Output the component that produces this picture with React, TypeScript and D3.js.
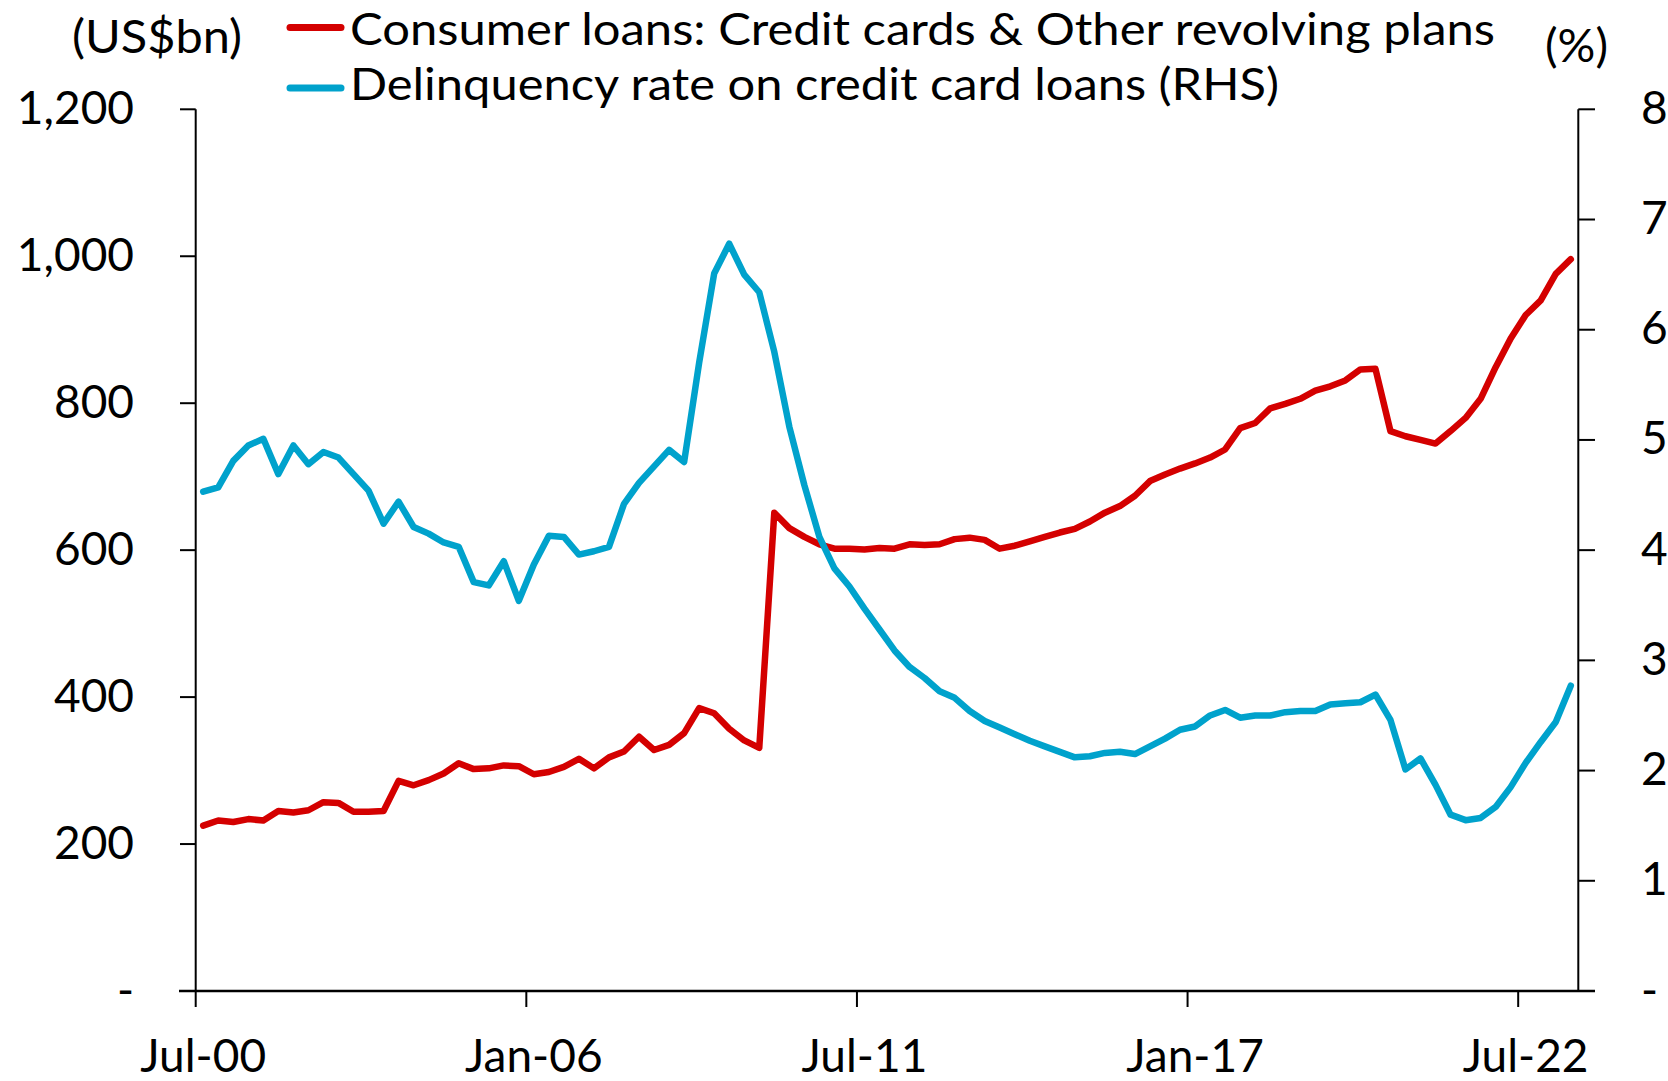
import React from "react";
import * as d3 from "d3";

// Quarterly categories Jul-00 .. Apr-23
const categoryDates: Date[] = d3.timeMonths(new Date(2000, 6, 1), new Date(2023, 6, 1), 3);
const fmt = d3.timeFormat("%b-%y");
const categories: string[] = categoryDates.map((d) => fmt(d));

const tickLabels: string[] = ["Jul-00", "Jan-06", "Jul-11", "Jan-17", "Jul-22"];

const leftTicks: number[] = [0, 200, 400, 600, 800, 1000, 1200];
const rightTicks: number[] = [0, 1, 2, 3, 4, 5, 6, 7, 8];

// Consumer loans: Credit cards & other revolving plans (US$bn)
const consumerLoans: number[] = [
  225, 232, 230, 234, 232, 245, 243, 246, 257, 256,
  244, 244, 245, 286, 280, 287, 296, 310, 302, 303,
  307, 306, 295, 298, 305, 316, 303, 318, 326, 346,
  328, 335, 351, 385, 378, 357, 341, 331, 651, 630,
  618, 608, 602, 602, 601, 603, 602, 608, 607, 608,
  615, 617, 614, 602, 606, 612, 618, 624, 629, 639,
  651, 660, 674, 694, 703, 711, 718, 726, 737, 766,
  773, 793, 799, 806, 817, 823, 831, 846, 847, 762,
  755, 750, 745, 762, 780, 806, 849, 888, 920, 940,
  976, 996,
];

// Delinquency rate on credit card loans (%), RHS
const delinquencyRate: number[] = [
  4.53, 4.57, 4.81, 4.95, 5.01, 4.69, 4.95, 4.78, 4.89, 4.84,
  4.69, 4.54, 4.24, 4.44, 4.21, 4.15, 4.07, 4.03, 3.71, 3.68,
  3.90, 3.54, 3.87, 4.13, 4.12, 3.96, 3.99, 4.03, 4.42, 4.61,
  4.76, 4.91, 4.80, 5.70, 6.51, 6.78, 6.50, 6.34, 5.80, 5.12,
  4.59, 4.12, 3.835, 3.67, 3.47, 3.28, 3.09, 2.94, 2.84, 2.72,
  2.66, 2.54, 2.45, 2.39, 2.33, 2.27, 2.22, 2.17, 2.12, 2.13,
  2.16, 2.17, 2.15, 2.22, 2.29, 2.37, 2.40, 2.50, 2.55, 2.48,
  2.50, 2.50, 2.53, 2.54, 2.54, 2.60, 2.61, 2.62, 2.69, 2.46,
  2.01, 2.11, 1.87, 1.60, 1.55, 1.57, 1.67, 1.85, 2.07, 2.26,
  2.44, 2.77,
];

const W = 1668;
const H = 1081;
const left = 195.7;
const right = 1578.3;
const top = 109.3;
const bottom = 991;

const RED = "#D40000";
const BLUE = "#00A2CC";
const FONT = "Lato, 'Open Sans', sans-serif";

export default function App() {
  const x = d3.scaleBand<string>().domain(categories).range([left, right]).padding(0);
  const bw = x.bandwidth();
  const cx = (c: string) => (x(c) as number) + bw / 2;
  const yL = d3.scaleLinear().domain([0, 1200]).range([bottom, top]);
  const yR = d3.scaleLinear().domain([0, 8]).range([bottom, top]);

  const redLine = d3
    .line<number>()
    .x((_, i) => cx(categories[i]))
    .y((d) => yL(d))(consumerLoans) as string;
  const blueLine = d3
    .line<number>()
    .x((_, i) => cx(categories[i]))
    .y((d) => yR(d))(delinquencyRate) as string;

  const fs = 46;

  return (
    <>
      <style>{`body{margin:0}`}</style>
      <svg width={W} height={H} viewBox={`0 0 ${W} ${H}`} style={{ display: "block", background: "#fff" }}>
        {/* axis titles */}
        <text x={72} y={53} fontFamily={FONT} fontSize={fs} fill="#000" textLength={170} lengthAdjust="spacingAndGlyphs">(US$bn)</text>
        <text x={1545} y={62} fontFamily={FONT} fontSize={fs} fill="#000" textLength={63} lengthAdjust="spacingAndGlyphs">(%)</text>

        {/* legend */}
        <line x1={290} x2={341} y1={27.5} y2={27.5} stroke={RED} strokeWidth={7} strokeLinecap="round" />
        <text x={350} y={45} fontFamily={FONT} fontSize={44} fill="#000" textLength={1145} lengthAdjust="spacingAndGlyphs">
          Consumer loans: Credit cards &amp; Other revolving plans
        </text>
        <line x1={290} x2={341} y1={88} y2={88} stroke={BLUE} strokeWidth={7} strokeLinecap="round" />
        <text x={350} y={100} fontFamily={FONT} fontSize={44} fill="#000" textLength={929} lengthAdjust="spacingAndGlyphs">
          Delinquency rate on credit card loans (RHS)
        </text>

        {/* left axis */}
        <line x1={left} x2={left} y1={top} y2={bottom} stroke="#000" strokeWidth={2} />
        {leftTicks.map((v) => (
          <g key={"l" + v}>
            <line x1={180} x2={left} y1={yL(v)} y2={yL(v)} stroke="#000" strokeWidth={2} />
            <text x={134} y={yL(v) + 14.5} fontFamily={FONT} fontSize={fs} textAnchor="end" fill="#000">
              {v === 0 ? "-" : d3.format(",")(v)}
            </text>
          </g>
        ))}

        {/* right axis */}
        <line x1={right} x2={right} y1={top} y2={bottom} stroke="#000" strokeWidth={2} />
        {rightTicks.map((v) => (
          <g key={"r" + v}>
            <line x1={right} x2={1595} y1={yR(v)} y2={yR(v)} stroke="#000" strokeWidth={2} />
            <text x={1641} y={yR(v) + 14.5} fontFamily={FONT} fontSize={fs} textAnchor="start" fill="#000">
              {v === 0 ? "-" : String(v)}
            </text>
          </g>
        ))}

        {/* x axis */}
        <line x1={179} x2={1595} y1={bottom} y2={bottom} stroke="#000" strokeWidth={2.6} />
        {tickLabels.map((t) => (
          <g key={t}>
            <line x1={x(t) as number} x2={x(t) as number} y1={bottom} y2={1007} stroke="#000" strokeWidth={2} />
            <text x={cx(t)} y={1072} fontFamily={FONT} fontSize={fs} textAnchor="middle" fill="#000">
              {t}
            </text>
          </g>
        ))}

        {/* series */}
        <path d={redLine} fill="none" stroke={RED} strokeWidth={6.5} strokeLinejoin="round" strokeLinecap="round" />
        <path d={blueLine} fill="none" stroke={BLUE} strokeWidth={6.5} strokeLinejoin="round" strokeLinecap="round" />
      </svg>
    </>
  );
}
